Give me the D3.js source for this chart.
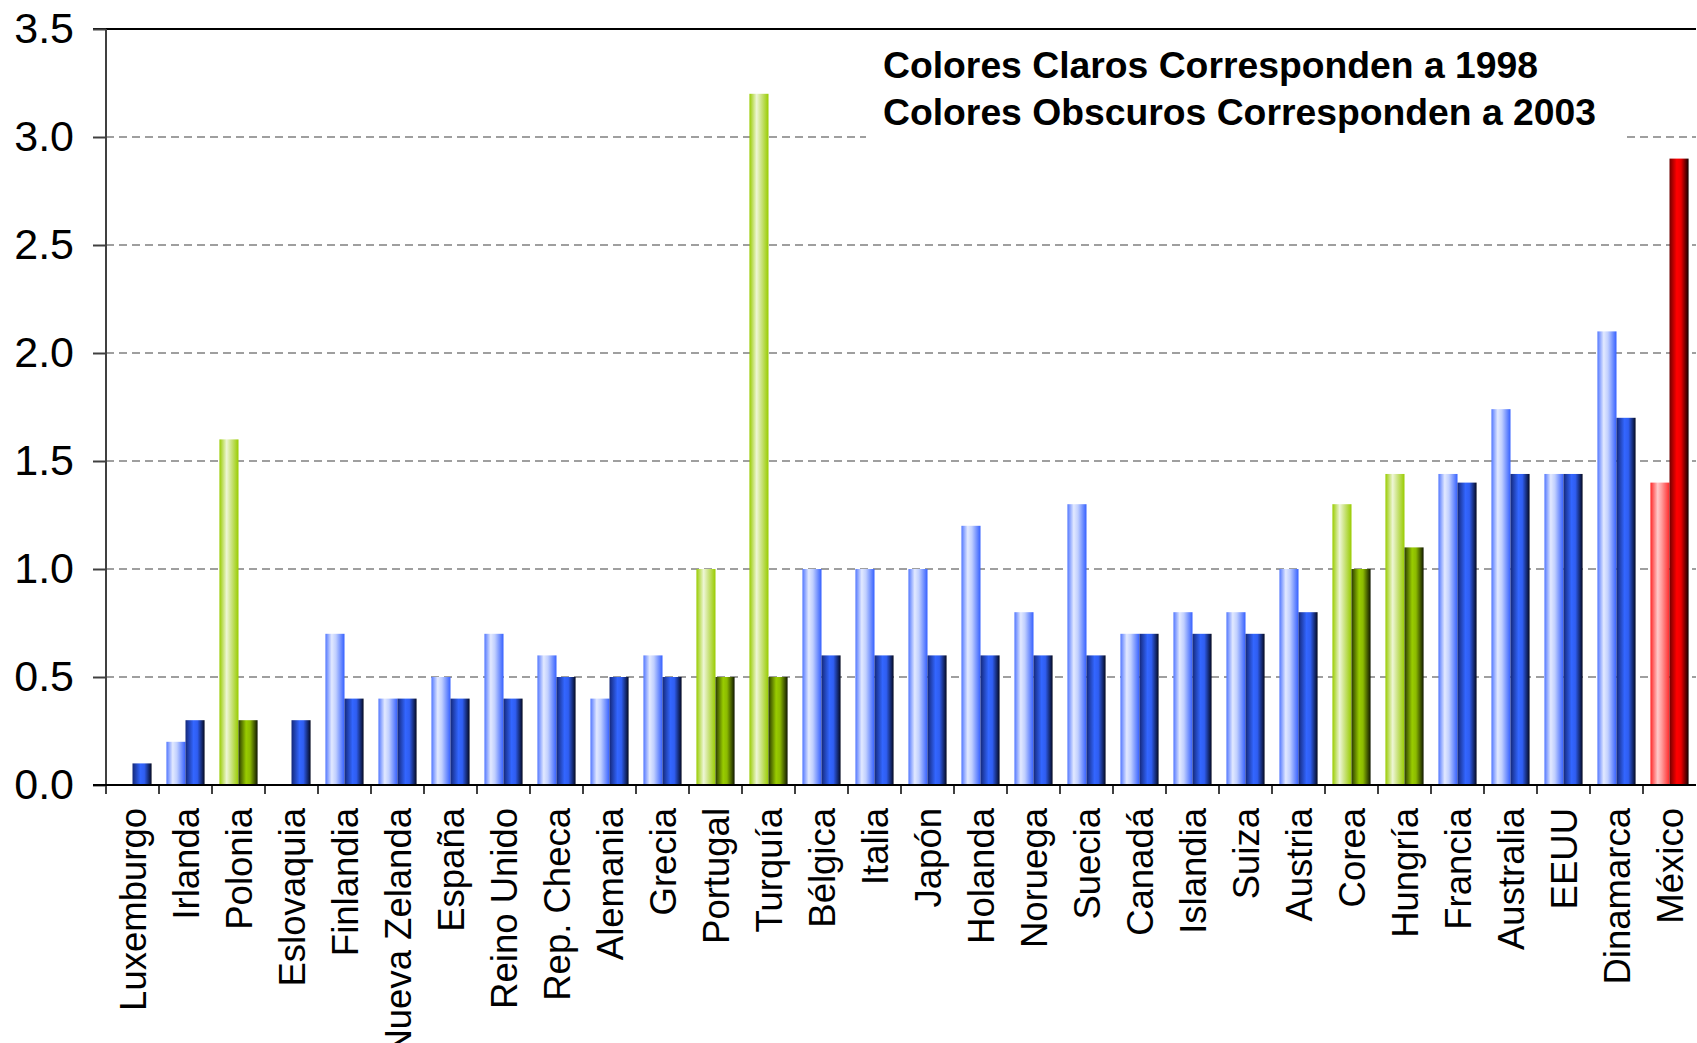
<!DOCTYPE html>
<html>
<head>
<meta charset="utf-8">
<script src="https://cdn.jsdelivr.net/npm/d3@7/dist/d3.min.js"></script>
<style>
  html, body { margin: 0; padding: 0; background: #fff; overflow: hidden; }
  svg { display: block; }
</style>
</head>
<body>
<svg id="chart" width="1697" height="1043"></svg>
<script>
// ---- Data ----
const categories = ["Luxemburgo","Irlanda","Polonia","Eslovaquia","Finlandia","Nueva Zelanda","España","Reino Unido","Rep. Checa","Alemania","Grecia","Portugal","Turquía","Bélgica","Italia","Japón","Holanda","Noruega","Suecia","Canadá","Islandia","Suiza","Austria","Corea","Hungría","Francia","Australia","EEUU","Dinamarca","México"];
const values1998 = [null,0.2,1.6,null,0.7,0.4,0.5,0.7,0.6,0.4,0.6,1.0,3.2,1.0,1.0,1.0,1.2,0.8,1.3,0.7,0.8,0.8,1.0,1.3,1.44,1.44,1.74,1.44,2.1,1.4];
const values2003 = [0.1,0.3,0.3,0.3,0.4,0.4,0.4,0.4,0.5,0.5,0.5,0.5,0.5,0.6,0.6,0.6,0.6,0.6,0.6,0.7,0.7,0.7,0.8,1.0,1.1,1.4,1.44,1.44,1.7,2.9];
const colorGroup = ["blue","blue","green","blue","blue","blue","blue","blue","blue","blue","blue","green","green","blue","blue","blue","blue","blue","blue","blue","blue","blue","blue","green","green","blue","blue","blue","blue","red"];
const yTicks = [0,0.5,1.0,1.5,2.0,2.5,3.0,3.5];
const legendLines = ["Colores Claros Corresponden a 1998","Colores Obscuros Corresponden a 2003"];
const seriesKeys = ["y1998","y2003"];

// ---- Layout ----
const svg = d3.select("#chart");
const margin = {left: 106, right: 1, top: 29, bottom: 258};
const W = 1697, H = 1043;
const x0 = margin.left, x1 = W - margin.right;
const yBottom = H - margin.bottom, yTop = margin.top;

const x = d3.scaleBand().domain(categories).range([x0, x1]).paddingInner(0.28).paddingOuter(0.14);
const step = x.step();
const xs = d3.scaleBand().domain(seriesKeys).range([0, x.bandwidth()]).padding(0);
const y = d3.scaleLinear().domain([0, 3.5]).range([yBottom, yTop]);

// ---- Gradients ----
const defs = svg.append("defs");
const grads = {
  light_blue: [[0,"#5277ff"],[0.33,"#e2e9ff"],[0.55,"#c0cfff"],[1,"#3560ff"]],
  dark_blue: [[0,"#14287a"],[0.42,"#3366ff"],[0.62,"#2f5ef2"],[1,"#040920"]],
  light_green: [[0,"#99cc00"],[0.38,"#eef6d6"],[0.6,"#cfe58a"],[1,"#99cc00"]],
  dark_green: [[0,"#2a3a00"],[0.4,"#99cc00"],[0.6,"#8cbb00"],[1,"#101700"]],
  light_red: [[0,"#ff2525"],[0.38,"#ffcaca"],[0.6,"#ff9a9a"],[1,"#ff2a2a"]],
  dark_red: [[0,"#700000"],[0.38,"#ff0000"],[0.6,"#ee0000"],[1,"#100000"]]
};
Object.entries(grads).forEach(([id, stops]) => {
  const g = defs.append("linearGradient").attr("id", id).attr("x1","0").attr("x2","1").attr("y1","0").attr("y2","0");
  stops.forEach(([o,c]) => g.append("stop").attr("offset", o).attr("stop-color", c));
});

// ---- Gridlines ----
svg.append("g").selectAll("line").data(yTicks.filter(t => t > 0 && t < 3.5)).join("line")
  .attr("x1", x0).attr("x2", x1)
  .attr("y1", d => y(d)).attr("y2", d => y(d))
  .attr("stroke", "#808080").attr("stroke-width", 1.5).attr("stroke-dasharray", "8,5");

// ---- Legend box (white, covers gridline) ----
svg.append("rect").attr("x", 866).attr("y", 40).attr("width", 759).attr("height", 106).attr("fill", "#fff");
svg.append("g").selectAll("text").data(legendLines).join("text")
  .attr("x", 883).attr("y", (d,i) => 78 + i*47)
  .attr("font-family", "Liberation Sans, Arial, sans-serif")
  .attr("font-weight", "bold").attr("font-size", 37.3).attr("fill", "#000")
  .text(d => d);

// ---- Bars ----
const rows = categories.map((c,i) => ({cat: c, group: colorGroup[i], y1998: values1998[i], y2003: values2003[i]}));
const barG = svg.append("g");
rows.forEach(r => {
  seriesKeys.forEach(k => {
    const v = r[k];
    if (v == null) return;
    const shade = k === "y1998" ? "light" : "dark";
    barG.append("rect")
      .attr("x", x(r.cat) + xs(k))
      .attr("width", xs.bandwidth())
      .attr("y", y(v))
      .attr("height", y(0) - y(v))
      .attr("fill", `url(#${shade}_${r.group})`);
  });
});

// ---- Axes ----
svg.append("line").attr("x1", x0 - 13).attr("x2", x1).attr("y1", y(3.5)).attr("y2", y(3.5))
  .attr("stroke", "#000").attr("stroke-width", 2);

const yAxis = d3.axisLeft(y).tickValues(yTicks).tickSize(13).tickPadding(19).tickFormat(d3.format(".1f"));
const yg = svg.append("g").attr("transform", `translate(${x0},0)`).call(yAxis);
yg.select(".domain").remove();
yg.selectAll(".tick line").attr("stroke", "#404040").attr("stroke-width", 2);
yg.selectAll(".tick text").attr("font-family", "Liberation Sans, Arial, sans-serif").attr("font-size", 43).attr("fill", "#000");

svg.append("line").attr("x1", x0).attr("x2", x0).attr("y1", y(3.5)).attr("y2", yBottom + 9)
  .attr("stroke", "#404040").attr("stroke-width", 2);

// x axis
const xAxis = d3.axisBottom(x).tickSize(0).tickPadding(0);
const xg = svg.append("g").attr("transform", `translate(0,${yBottom})`).call(xAxis);
xg.select(".domain").remove();
xg.selectAll(".tick text")
  .attr("font-family", "Liberation Sans, Arial, sans-serif").attr("font-size", 36.5).attr("fill", "#000")
  .attr("text-anchor", "end")
  .attr("transform", "rotate(-90)")
  .attr("x", -23).attr("y", 0).attr("dy", "0.36em");

// category boundary ticks
svg.append("g").selectAll("line").data(categories).join("line")
  .attr("x1", d => x(d) - (step - x.bandwidth()) / 2)
  .attr("x2", d => x(d) - (step - x.bandwidth()) / 2)
  .attr("y1", yBottom).attr("y2", yBottom + 9)
  .attr("stroke", "#404040").attr("stroke-width", 2);

svg.append("line").attr("x1", x0 - 13).attr("x2", x1).attr("y1", yBottom).attr("y2", yBottom)
  .attr("stroke", "#000").attr("stroke-width", 2);
</script>
</body>
</html>
